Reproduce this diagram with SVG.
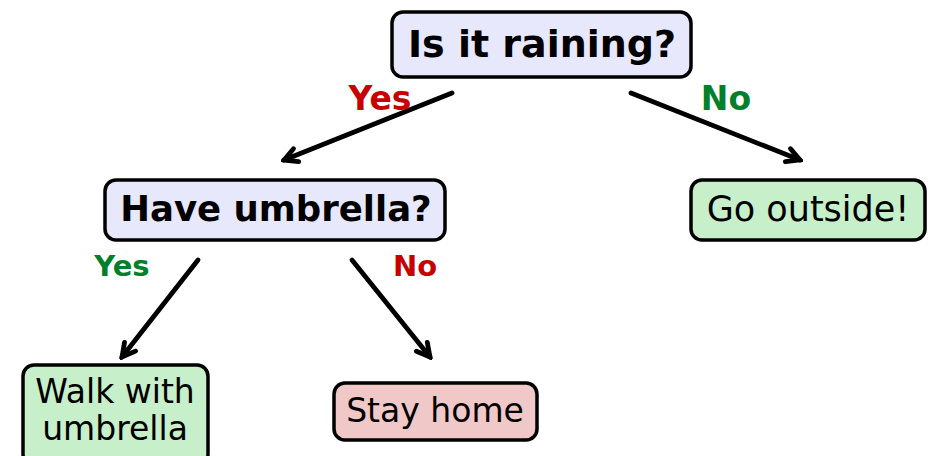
<svg xmlns="http://www.w3.org/2000/svg" width="938" height="456" viewBox="0 0 938 456">
  <style>
    .box { stroke: #000; stroke-width: 3.5; }
    .q { fill: #e8e8fc; }
    .go { fill: #c7efc9; }
    .stop { fill: #f0c8c8; }
    .bold { font-family: "DejaVu Sans", sans-serif; font-weight: bold; fill: #000; text-anchor: middle; }
    .reg { font-family: "DejaVu Sans", sans-serif; fill: #000; text-anchor: middle; }
    .edge { stroke: #000; stroke-width: 4.8; stroke-linecap: round; fill: none; marker-end: url(#head); }
    .lbl { font-family: "DejaVu Sans", sans-serif; font-weight: bold; text-anchor: middle; }
    .red { fill: #c80000; }
    .green { fill: #00802b; }
  </style>
  <defs>
    <!-- open "->" style arrowhead -->
    <marker id="head" viewBox="0 0 20 20" refX="17" refY="10" markerWidth="20" markerHeight="20" markerUnits="userSpaceOnUse" orient="auto">
      <path d="M4 3 L17 10 L4 17" fill="none" stroke="#000" stroke-width="4.8" stroke-linecap="round" stroke-linejoin="miter"/>
    </marker>
  </defs>
  <rect width="938" height="456" fill="#fff"/>

  <g id="connectors">
    <line class="edge" x1="452" y1="93" x2="284" y2="160"/>
    <line class="edge" x1="631" y1="93" x2="800" y2="160"/>
    <line class="edge" x1="198" y1="260" x2="122" y2="357"/>
    <line class="edge" x1="352" y1="260" x2="430" y2="357"/>
    <text class="lbl red" x="380" y="110" font-size="33">Yes</text>
    <text class="lbl green" x="726" y="110" font-size="33">No</text>
    <text class="lbl green" x="122" y="276" font-size="29">Yes</text>
    <text class="lbl red" x="415" y="276" font-size="29">No</text>
  </g>

  <g id="raining">
    <rect class="box q" x="392" y="12" width="299" height="65" rx="11"/>
    <text class="bold" x="542" y="57" font-size="38">Is it raining?</text>
  </g>
  <g id="umbrella">
    <rect class="box q" x="105" y="180" width="340" height="60" rx="11"/>
    <text class="bold" x="276" y="221" font-size="35.5">Have umbrella?</text>
  </g>
  <g id="outside">
    <rect class="box go" x="691" y="180" width="234" height="60" rx="11"/>
    <text class="reg" x="808" y="221" font-size="35">Go outside!</text>
  </g>
  <g id="walk">
    <rect class="box go" x="23" y="365" width="185" height="100" rx="11"/>
    <text class="reg" x="115" y="403" font-size="33">Walk with</text>
    <text class="reg" x="115" y="440" font-size="33">umbrella</text>
  </g>
  <g id="home">
    <rect class="box stop" x="334" y="383" width="203" height="57" rx="11"/>
    <text class="reg" x="435" y="422" font-size="33">Stay home</text>
  </g>
</svg>
